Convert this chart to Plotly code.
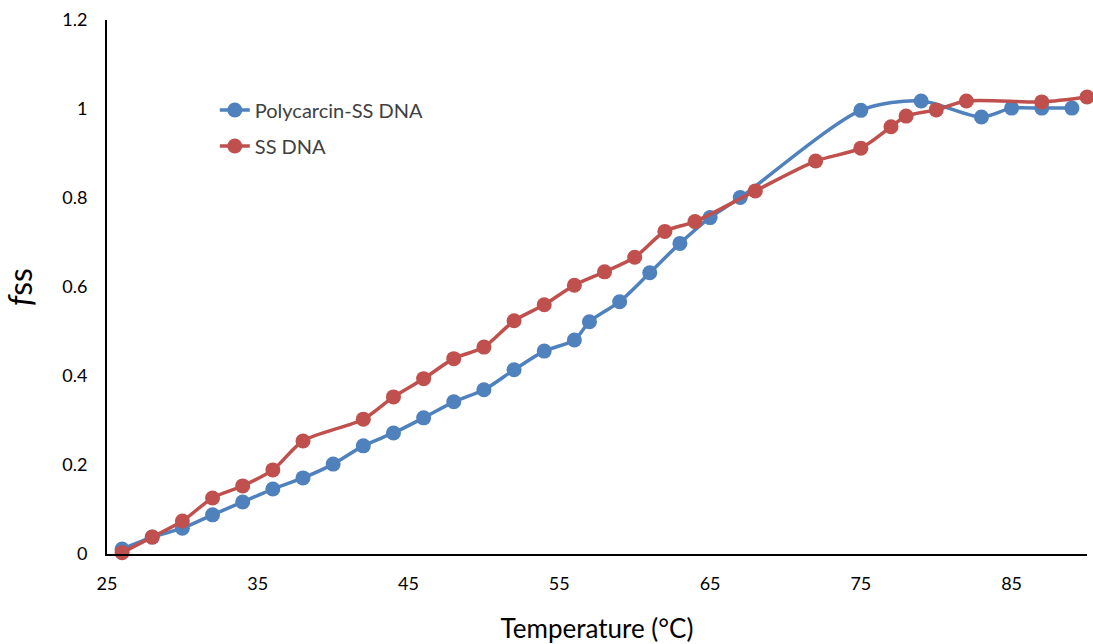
import plotly.graph_objects as go

# Temperature (°C) and fraction single-stranded for each sample
temp_poly = [26, 28, 30, 32, 34, 36, 38, 40, 42, 44, 46, 48, 50, 52, 54, 56, 57,
             59, 61, 63, 65, 67, 75, 79, 83, 85, 87, 89]
fss_poly = [0.011, 0.038, 0.058, 0.088, 0.117, 0.146, 0.171, 0.202, 0.243, 0.272,
            0.306, 0.342, 0.369, 0.414, 0.456, 0.481, 0.522, 0.567, 0.632, 0.698,
            0.756, 0.801, 0.997, 1.018, 0.982, 1.002, 1.002, 1.002]

temp_ss = [26, 28, 30, 32, 34, 36, 38, 42, 44, 46, 48, 50, 52, 54, 56, 58, 60,
           62, 64, 68, 72, 75, 77, 78, 80, 82, 87, 90]
fss_ss = [0.003, 0.038, 0.074, 0.126, 0.153, 0.189, 0.254, 0.303, 0.353, 0.394,
          0.439, 0.465, 0.524, 0.560, 0.604, 0.634, 0.667, 0.725, 0.747, 0.816,
          0.883, 0.912, 0.960, 0.984, 0.998, 1.018, 1.016, 1.027]

x_ticks = [25, 35, 45, 55, 65, 75, 85]
y_ticks = [0, 0.2, 0.4, 0.6, 0.8, 1.0, 1.2]
y_tick_text = ["0", "0.2", "0.4", "0.6", "0.8", "1", "1.2"]

BLUE = "#4F81BD"
RED = "#C0504D"
FONT = "Lato"

fig = go.Figure()
fig.add_trace(go.Scatter(
    x=temp_poly, y=fss_poly, name="Polycarcin-SS DNA", mode="lines+markers",
    legendgroup="poly",
    line=dict(color=BLUE, width=3.5, shape="spline", smoothing=0.8),
    marker=dict(color=BLUE, size=15),
))
fig.add_trace(go.Scatter(
    x=temp_ss, y=fss_ss, name="SS DNA", mode="lines+markers",
    legendgroup="ss",
    line=dict(color=RED, width=3.5, shape="spline", smoothing=0.8),
    marker=dict(color=RED, size=15),
    cliponaxis=False,
))

fig.update_layout(
    width=1093, height=644,
    margin=dict(l=107, r=6, t=20, b=90),
    paper_bgcolor="white", plot_bgcolor="white",
    font=dict(family=FONT, color="#000000", size=18),
    showlegend=True,
    legend=dict(
        x=0.11, y=0.868, xanchor="left", yanchor="top",
        bgcolor="rgba(0,0,0,0)",
        font=dict(size=20, color="#404040", family=FONT),
        tracegroupgap=7,
    ),
    xaxis=dict(
        range=[25, 90], tickvals=x_ticks, showgrid=False, zeroline=False,
        showline=True, linecolor="black", linewidth=2, automargin=False,
        ticks="", ticklabelstandoff=12,
        tickfont=dict(family=FONT, size=18, color="#000000"),
        title=dict(text="Temperature (°C)",
                   font=dict(family=FONT, size=26, color="#000000"), standoff=28),
    ),
    yaxis=dict(
        range=[0, 1.2], tickvals=y_ticks, ticktext=y_tick_text,
        showgrid=False, zeroline=False, automargin=False,
        showline=True, linecolor="black", linewidth=2,
        ticks="", ticklabelstandoff=14,
        tickfont=dict(family=FONT, size=18, color="#000000"),
        title=dict(text="<i>f</i>ss",
                   font=dict(family=FONT, size=32, color="#000000"), standoff=20),
    ),
)

fig.write_html("out.html")
